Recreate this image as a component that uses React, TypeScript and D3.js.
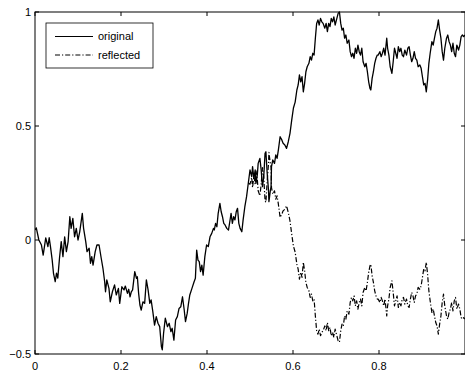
import * as d3 from "d3";

// sample times (fraction of the unit interval)
const times = [
  0, 0.003, 0.009, 0.015, 0.019, 0.025, 0.03, 0.033, 0.036, 0.04,
  0.043, 0.047, 0.05, 0.053, 0.057, 0.061, 0.065, 0.069, 0.073, 0.077,
  0.081, 0.084, 0.088, 0.092, 0.096, 0.1, 0.104, 0.11, 0.113, 0.118,
  0.121, 0.126, 0.129, 0.132, 0.135, 0.14, 0.144, 0.149, 0.154, 0.158,
  0.162, 0.164, 0.167, 0.172, 0.175, 0.18, 0.185, 0.189, 0.194, 0.197,
  0.202, 0.207, 0.21, 0.215, 0.218, 0.221, 0.224, 0.227, 0.232, 0.236,
  0.238, 0.241, 0.244, 0.247, 0.251, 0.255, 0.259, 0.263, 0.267, 0.27,
  0.274, 0.278, 0.282, 0.286, 0.29, 0.294, 0.296, 0.299, 0.303, 0.308,
  0.312, 0.316, 0.319, 0.323, 0.327, 0.331, 0.335, 0.339, 0.343, 0.347,
  0.35, 0.354, 0.357, 0.36, 0.365, 0.37, 0.373, 0.376, 0.379, 0.382,
  0.385, 0.388, 0.391, 0.395, 0.399, 0.403, 0.407, 0.411, 0.415, 0.417,
  0.42, 0.423, 0.426, 0.43, 0.433, 0.436, 0.439, 0.442, 0.446, 0.45,
  0.453, 0.456, 0.459, 0.462, 0.465, 0.468, 0.471, 0.474, 0.477, 0.481,
  0.484, 0.488, 0.492, 0.496, 0.5, 0.504, 0.506, 0.509, 0.512, 0.514,
  0.517, 0.519, 0.523, 0.526, 0.529, 0.532, 0.535, 0.537, 0.54, 0.543,
  0.544, 0.547, 0.549, 0.55, 0.553, 0.557, 0.56, 0.563, 0.566, 0.57,
  0.574, 0.577, 0.581, 0.585, 0.589, 0.593, 0.597, 0.601, 0.605, 0.609,
  0.612, 0.615, 0.618, 0.621, 0.624, 0.627, 0.63, 0.633, 0.637, 0.64,
  0.643, 0.646, 0.649, 0.652, 0.655, 0.658, 0.661, 0.664, 0.667, 0.67,
  0.674, 0.677, 0.68, 0.683, 0.686, 0.689, 0.692, 0.695, 0.698, 0.702,
  0.705, 0.708, 0.711, 0.714, 0.717, 0.72, 0.723, 0.726, 0.73, 0.733,
  0.736, 0.739, 0.742, 0.745, 0.748, 0.751, 0.754, 0.757, 0.76, 0.763,
  0.767, 0.77, 0.773, 0.776, 0.779, 0.781, 0.784, 0.787, 0.79, 0.793,
  0.796, 0.798, 0.802, 0.805, 0.808, 0.811, 0.814, 0.818, 0.82, 0.823,
  0.826, 0.83, 0.833, 0.836, 0.839, 0.842, 0.845, 0.848, 0.851, 0.854,
  0.857, 0.86, 0.864, 0.867, 0.87, 0.873, 0.876, 0.879, 0.882, 0.885,
  0.888, 0.891, 0.895, 0.898, 0.901, 0.904, 0.907, 0.91, 0.913, 0.916,
  0.919, 0.923, 0.926, 0.929, 0.932, 0.935, 0.938, 0.941, 0.944, 0.947,
  0.95, 0.953, 0.957, 0.96, 0.963, 0.966, 0.969, 0.972, 0.975, 0.978,
  0.981, 0.985, 0.988, 0.991, 0.994, 0.997, 1.0,
];

const original = [
  0.044, 0.053, 0, -0.022, -0.066, 0.009, -0.029, 0.01, -0.029, -0.088,
  -0.146, -0.183, -0.145, -0.167, -0.079, -0.007, -0.073, 0.014, -0.051, -0.007,
  0.102, 0.051, 0.095, 0.014, 0.051, 0, 0.036, 0.117, 0.051, -0.007,
  -0.051, -0.036, -0.102, -0.073, -0.11, -0.051, -0.022, -0.022, -0.08, -0.124,
  -0.183, -0.227, -0.175, -0.212, -0.271, -0.227, -0.197, -0.241, -0.212, -0.278,
  -0.205, -0.219, -0.202, -0.234, -0.216, -0.249, -0.227, -0.219, -0.139, -0.168,
  -0.161, -0.234, -0.285, -0.307, -0.271, -0.278, -0.175, -0.219, -0.278, -0.263,
  -0.314, -0.373, -0.336, -0.365, -0.38, -0.468, -0.482, -0.409, -0.343, -0.38,
  -0.365, -0.402, -0.387, -0.439, -0.351, -0.336, -0.3, -0.293, -0.249, -0.307,
  -0.358, -0.321, -0.278, -0.241, -0.212, -0.183, -0.168, -0.044, -0.088, -0.095,
  -0.139, -0.11, -0.154, -0.073, -0.022, -0.029, 0.014, 0.029, 0.051, 0.044,
  0.073, 0.058, 0.117, 0.161, 0.124, 0.102, 0.073, 0.066, 0.051, 0.044,
  0.08, 0.117, 0.073, 0.102, 0.088, 0.124, 0.139, 0.073, 0.051, 0.036,
  0.088, 0.146, 0.19, 0.249, 0.307, 0.278, 0.322, 0.271, 0.307, 0.249,
  0.285, 0.336, 0.358, 0.307, 0.234, 0.278, 0.38, 0.387, 0.292, 0.219,
  0.168, 0.212, 0.234, 0.322, 0.351, 0.336, 0.373, 0.358, 0.395, 0.453,
  0.439, 0.424, 0.417, 0.402, 0.431, 0.468, 0.526, 0.579, 0.605, 0.658,
  0.68, 0.724, 0.694, 0.716, 0.65, 0.687, 0.738, 0.76, 0.775, 0.804,
  0.789, 0.819, 0.811, 0.885, 0.95, 0.965, 0.943, 0.972, 0.957, 0.95,
  0.929, 0.95, 0.914, 0.95, 0.936, 0.972, 0.957, 0.979, 0.943, 0.972,
  0.994, 1.0, 0.95, 0.921, 0.929, 0.885, 0.899, 0.863, 0.877, 0.826,
  0.804, 0.819, 0.797, 0.841, 0.819, 0.855, 0.826, 0.811, 0.841, 0.782,
  0.76, 0.775, 0.738, 0.694, 0.665, 0.658, 0.709, 0.738, 0.775, 0.797,
  0.811, 0.811, 0.826, 0.804, 0.819, 0.841, 0.811, 0.885, 0.841, 0.811,
  0.76, 0.731, 0.782, 0.841, 0.819, 0.797, 0.848, 0.826, 0.841, 0.811,
  0.804, 0.833, 0.811, 0.841, 0.848, 0.811, 0.782, 0.797, 0.826, 0.797,
  0.789, 0.76, 0.768, 0.753, 0.716, 0.68, 0.687, 0.65, 0.702, 0.775,
  0.819, 0.87, 0.855, 0.885, 0.914, 0.929, 0.965, 0.921, 0.885, 0.826,
  0.789, 0.841, 0.885, 0.899, 0.87, 0.855, 0.826, 0.863, 0.819, 0.804,
  0.855, 0.833, 0.855, 0.892, 0.899, 0.892, 0.899,
];

// reflected path, from the first hitting time on (before it, it equals the original)
const reflectedTimes = times.slice(133);
const reflected = [
  0.249, 0.245, 0.274, 0.23, 0.281, 0.245, 0.303, 0.267, 0.216, 0.194,
  0.245, 0.318, 0.274, 0.172, 0.165, 0.26, 0.333, 0.384, 0.34, 0.318,
  0.23, 0.201, 0.216, 0.179, 0.194, 0.157, 0.099, 0.113, 0.128, 0.135,
  0.15, 0.121, 0.084, 0.026, -0.027, -0.053, -0.106, -0.128, -0.172, -0.142,
  -0.164, -0.098, -0.135, -0.186, -0.208, -0.223, -0.252, -0.237, -0.267, -0.259,
  -0.333, -0.398, -0.413, -0.391, -0.42, -0.405, -0.398, -0.377, -0.398, -0.362,
  -0.398, -0.384, -0.42, -0.405, -0.427, -0.391, -0.42, -0.442, -0.448, -0.398,
  -0.369, -0.377, -0.333, -0.347, -0.311, -0.325, -0.274, -0.252, -0.267, -0.245,
  -0.289, -0.267, -0.303, -0.274, -0.259, -0.289, -0.23, -0.208, -0.223, -0.186,
  -0.142, -0.113, -0.106, -0.157, -0.186, -0.223, -0.245, -0.259, -0.259, -0.274,
  -0.252, -0.267, -0.289, -0.259, -0.333, -0.289, -0.259, -0.208, -0.179, -0.23,
  -0.289, -0.267, -0.245, -0.296, -0.274, -0.289, -0.259, -0.252, -0.281, -0.259,
  -0.289, -0.296, -0.259, -0.23, -0.245, -0.274, -0.245, -0.237, -0.208, -0.216,
  -0.201, -0.164, -0.128, -0.135, -0.098, -0.15, -0.223, -0.267, -0.318, -0.303,
  -0.333, -0.362, -0.377, -0.413, -0.369, -0.333, -0.274, -0.237, -0.289, -0.333,
  -0.347, -0.318, -0.303, -0.274, -0.311, -0.267, -0.252, -0.303, -0.281, -0.303,
  -0.34, -0.347, -0.34, -0.347,
];

const xTicks = [0, 0.2, 0.4, 0.6, 0.8];
const yTicks = [-0.5, 0, 0.5, 1];
const legendLabels = ["original", "reflected"];

const FONT = "'Liberation Sans', Arial, Helvetica, sans-serif";
const DASHDOT = "5,2,1.2,2";

export default function App() {
  const width = 465;
  const height = 374;
  const margin = { top: 12, right: 0, bottom: 20, left: 35 };
  const x = d3.scaleLinear([0, 1], [margin.left, width - margin.right]);
  const y = d3.scaleLinear([-0.5, 1], [height - margin.bottom, margin.top]);

  const line = d3
    .line<[number, number]>()
    .x((d) => x(d[0]))
    .y((d) => y(d[1]));

  const origPath = line(times.map((t, i) => [t, original[i]]));
  const reflPath = line(reflectedTimes.map((t, i) => [t, reflected[i]]));

  const x0 = x(0);
  const x1 = x(1);
  const yTop = y(1);
  const yBot = y(-0.5);
  const tick = 4;
  const fmt = (v: number) => (v < 0 ? "\u2212" + Math.abs(v) : String(v));

  return (
    <svg
      width={width}
      height={height}
      style={{ position: "absolute", left: 0, top: 0, background: "#fff" }}
      fontFamily={FONT}
    >
      <defs>
        <clipPath id="plotClip">
          <rect x={x0} y={yTop - 1} width={x1 - x0} height={yBot - yTop + 2} />
        </clipPath>
      </defs>
      <rect x={0} y={0} width={width} height={height} fill="#fff" />

      <g clipPath="url(#plotClip)" fill="none" strokeLinejoin="round">
        <path d={origPath ?? ""} stroke="#000" strokeWidth={1.3} />
        <path
          d={reflPath ?? ""}
          stroke="#000"
          strokeWidth={1.2}
          strokeDasharray={DASHDOT}
        />
      </g>

      {/* axes box */}
      <rect
        x={x0}
        y={yTop}
        width={x1 - x0}
        height={yBot - yTop}
        fill="none"
        stroke="#000"
        strokeWidth={1}
      />

      {xTicks.map((t) => (
        <g key={"x" + t}>
          <line x1={x(t)} x2={x(t)} y1={yBot} y2={yBot - tick} stroke="#000" />
          <line x1={x(t)} x2={x(t)} y1={yTop} y2={yTop + tick} stroke="#000" />
          <text
            x={x(t)}
            y={yBot + 16}
            textAnchor="middle"
            fontSize={11}
            fill="#000"
          >
            {fmt(t)}
          </text>
        </g>
      ))}

      {yTicks.map((v) => (
        <g key={"y" + v}>
          <line x1={x0} x2={x0 + tick} y1={y(v)} y2={y(v)} stroke="#000" />
          <line x1={x1} x2={x1 - tick} y1={y(v)} y2={y(v)} stroke="#000" />
          <text
            x={x0 - 4}
            y={y(v)}
            dy="0.35em"
            textAnchor="end"
            fontSize={11}
            fill="#000"
          >
            {fmt(v)}
          </text>
        </g>
      ))}

      {/* legend */}
      <g>
        <rect x={46} y={23} width={107} height={45} fill="#fff" stroke="#000" strokeWidth={0.8} />
        {legendLabels.map((label, i) => {
          const ly = 36.5 + i * 18.5;
          return (
            <g key={label}>
              <line
                x1={55}
                x2={93}
                y1={ly}
                y2={ly}
                stroke="#000"
                strokeWidth={1}
                strokeDasharray={i === 1 ? DASHDOT : undefined}
              />
              <text x={98} y={ly} dy="0.35em" fontSize={11} fill="#000">
                {label}
              </text>
            </g>
          );
        })}
      </g>
    </svg>
  );
}
